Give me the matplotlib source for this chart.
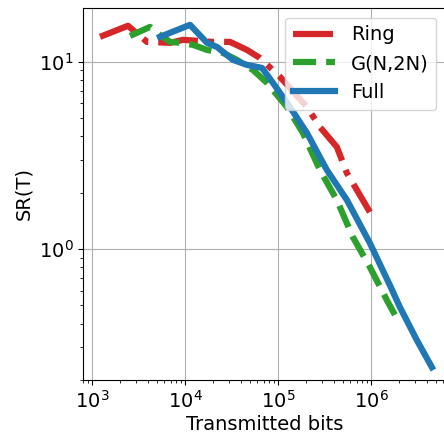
import numpy as np
import matplotlib.pyplot as plt

# log10 values
ring_x = [3.086, 3.387, 3.591, 3.839, 3.978, 4.301, 4.484, 4.667, 4.806, 5.022, 5.312, 5.452, 5.634, 5.742, 5.989]
ring_y = [1.134, 1.193, 1.107, 1.102, 1.118, 1.107, 1.107, 1.064, 1.021, 0.920, 0.759, 0.652, 0.545, 0.406, 0.198]

g_x = [3.409, 3.624, 3.731, 3.839, 3.946, 4.086, 4.237, 4.409, 4.559, 4.731, 4.882, 5.097, 5.269, 5.452, 5.634, 5.806, 5.989, 6.172, 6.290]
g_y = [1.139, 1.187, 1.144, 1.107, 1.102, 1.091, 1.064, 1.048, 1.011, 0.957, 0.888, 0.759, 0.620, 0.422, 0.262, 0.064, -0.096, -0.273, -0.380]

full_x = [3.731, 4.054, 4.237, 4.344, 4.516, 4.667, 4.828, 4.946, 5.129, 5.312, 5.527, 5.742, 5.989, 6.204, 6.312, 6.495, 6.656]
full_y = [1.134, 1.198, 1.102, 1.080, 1.011, 0.984, 0.968, 0.888, 0.759, 0.620, 0.422, 0.262, 0.032, -0.193, -0.310, -0.487, -0.631]

plt.rcParams['font.size'] = 14

fig = plt.figure(figsize=(4.44, 4.34), dpi=100)
ax = fig.add_axes([0.187, 0.124, 0.818, 0.858])

ax.plot(10 ** np.array(ring_x), 10 ** np.array(ring_y), '-.', color='tab:red', lw=4.5, label='Ring')
ax.plot(10 ** np.array(g_x), 10 ** np.array(g_y), '--', color='tab:green', lw=4.5, label='G(N,2N)')
ax.plot(10 ** np.array(full_x), 10 ** np.array(full_y), '-', color='tab:blue', lw=4.5, label='Full')

ax.set_xscale('log')
ax.set_yscale('log')
ax.set_xlim(10 ** 2.903, 10 ** 6.81)
ax.set_ylim(10 ** -0.70, 10 ** 1.289)
ax.grid(True, which='major', color='#b0b0b0')
ax.set_xlabel('Transmitted bits', labelpad=2)
ax.set_ylabel('SR(T)')
ax.legend(loc='upper right', fontsize=14, handlelength=2.2)

fig.savefig('out.png')
